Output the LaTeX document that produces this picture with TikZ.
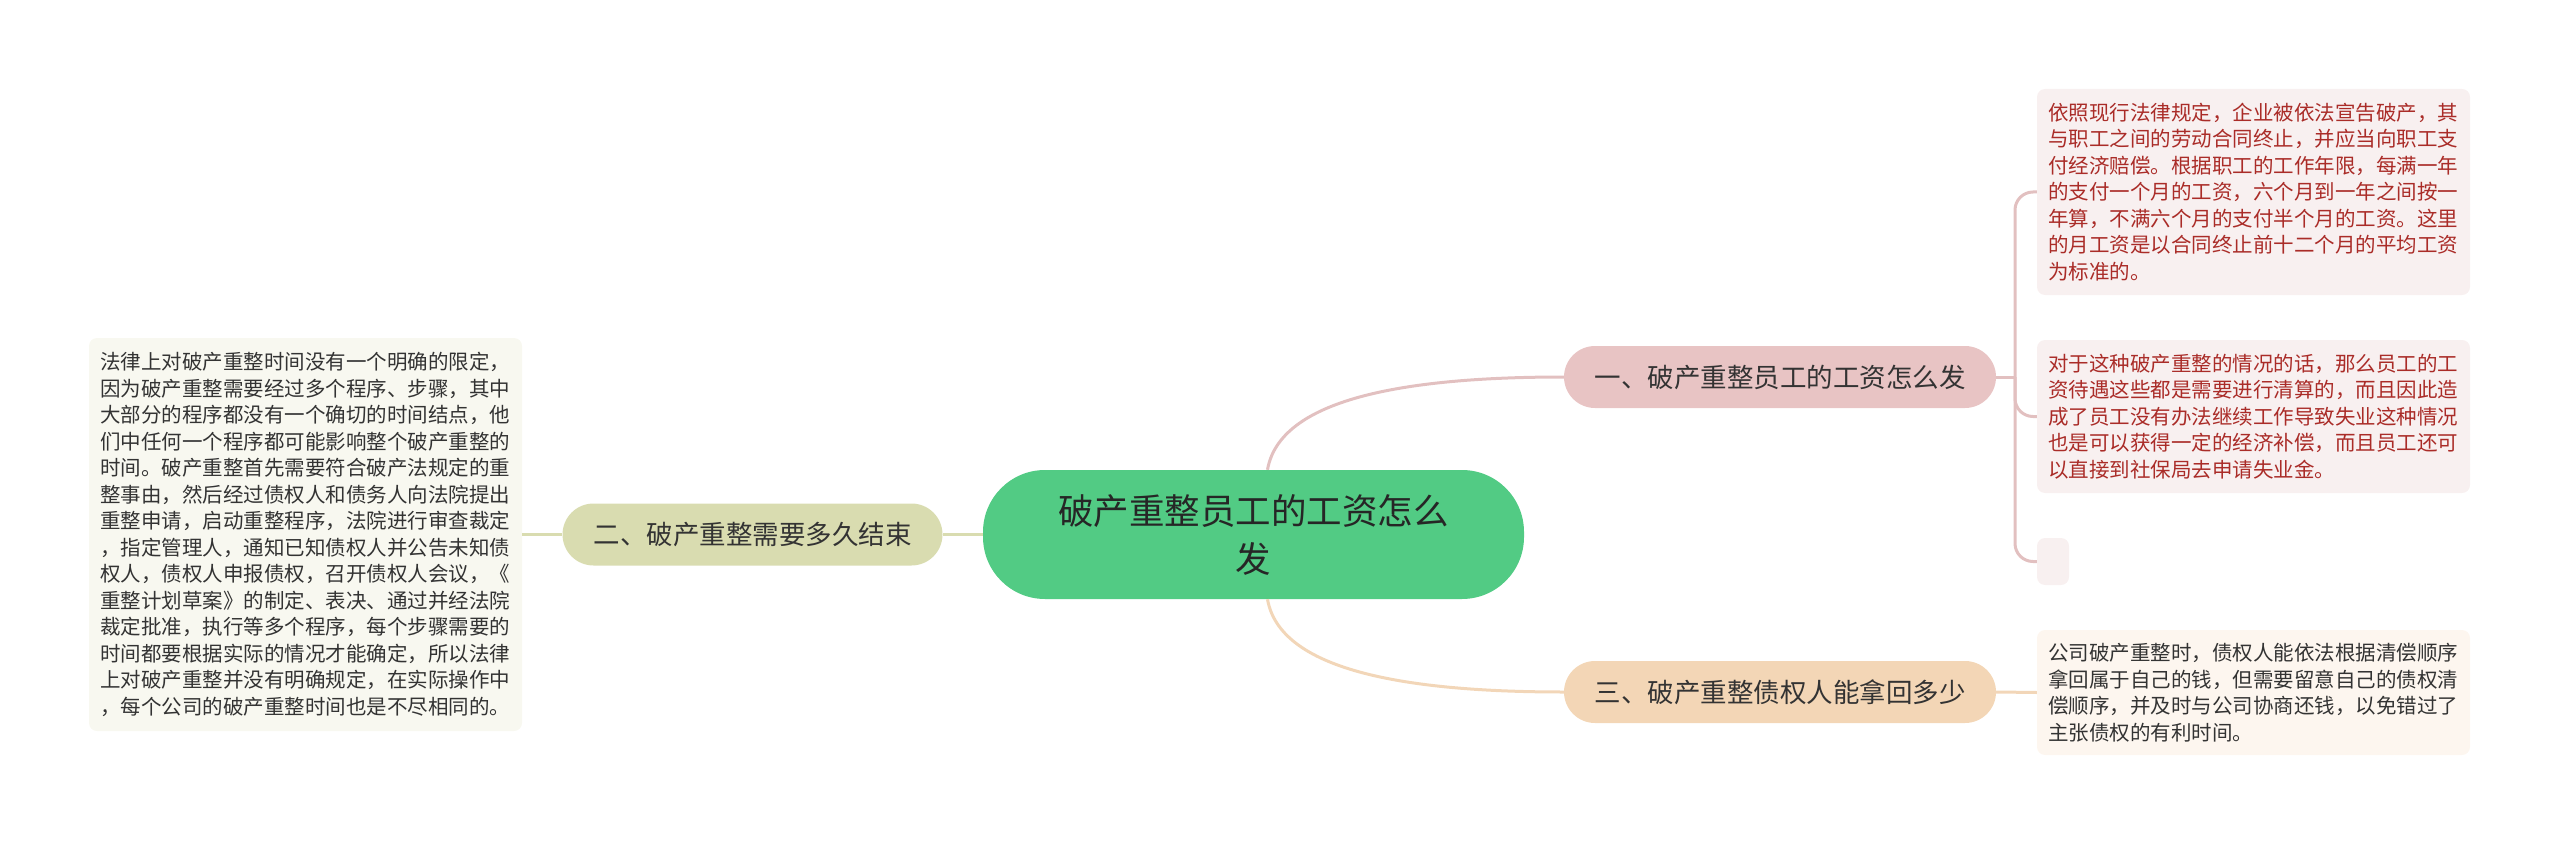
\documentclass[tikz,border=0pt]{standalone}
\usepackage{fontspec}
\setmainfont{Noto Sans CJK SC}
\definecolor{rootfill}{RGB}{82,203,132}
\definecolor{bonefill}{RGB}{232,196,196}
\definecolor{btwofill}{RGB}{217,220,176}
\definecolor{bthreefill}{RGB}{243,214,182}
\definecolor{lpink}{RGB}{248,240,240}
\definecolor{lcream}{RGB}{253,246,239}
\definecolor{lolive}{RGB}{248,248,240}
\definecolor{redtext}{RGB}{170,44,40}
\definecolor{darktext}{RGB}{51,51,51}
\definecolor{lineone}{RGB}{226,192,192}
\definecolor{linetwo}{RGB}{217,220,176}
\definecolor{linethree}{RGB}{242,214,184}
\tikzset{
  rootbox/.style={fill=rootfill, rounded corners=62pt, minimum width=541pt, minimum height=129pt,
    align=center, text=black!85, font={\fontsize{35.5pt}{48pt}\selectfont}, inner sep=0pt},
  branchbox/.style={rounded corners=31pt, minimum height=62pt, inner sep=0pt,
    text=darktext, font={\fontsize{26.5pt}{32pt}\selectfont}},
  leafbox/.style={rounded corners=8pt, text width=411pt, inner xsep=11pt, inner ysep=0pt,
    align=left, font={\fontsize{20.5pt}{26.5pt}\selectfont}},
  conn/.style={line width=3pt},
}
\begin{document}
\begin{tikzpicture}[x=1pt,y=-1pt]
\useasboundingbox (0,0) rectangle (2560,845);
% nodes
\node[rootbox] (root) at (1253.5,534.5) {破产重整员工的工资怎么\\发};
\node[branchbox, fill=bonefill, minimum width=432pt] (b1) at (1780,377) {一、破产重整员工的工资怎么发};
\node[branchbox, fill=btwofill, minimum width=380pt] (b2) at (752.5,534.5) {二、破产重整需要多久结束};
\node[branchbox, fill=bthreefill, minimum width=432pt] (b3) at (1780,692) {三、破产重整债权人能拿回多少};
\node[leafbox, fill=lpink, text=redtext, minimum height=206pt] (l1) at (2253.5,192) {依照现行法律规定，企业被依法宣告破产，其\\与职工之间的劳动合同终止，并应当向职工支\\付经济赔偿。根据职工的工作年限，每满一年\\的支付一个月的工资，六个月到一年之间按一\\年算，不满六个月的支付半个月的工资。这里\\的月工资是以合同终止前十二个月的平均工资\\为标准的。};
\node[leafbox, fill=lpink, text=redtext, minimum height=153pt] (l2) at (2253.5,416.5) {对于这种破产重整的情况的话，那么员工的工\\资待遇这些都是需要进行清算的，而且因此造\\成了员工没有办法继续工作导致失业这种情况\\也是可以获得一定的经济补偿，而且员工还可\\以直接到社保局去申请失业金。};
\node[fill=lpink, rounded corners=8pt, minimum width=32pt, minimum height=47pt, inner sep=0pt] (l3) at (2053,561.5) {};
\node[leafbox, fill=lcream, text=darktext, minimum height=125pt] (l4) at (2253.5,692.5) {公司破产重整时，债权人能依法根据清偿顺序\\拿回属于自己的钱，但需要留意自己的债权清\\偿顺序，并及时与公司协商还钱，以免错过了\\主张债权的有利时间。};
\node[leafbox, fill=lolive, text=darktext, minimum height=393pt] (lL) at (305.5,534.5) {法律上对破产重整时间没有一个明确的限定，\\因为破产重整需要经过多个程序、步骤，其中\\大部分的程序都没有一个确切的时间结点，他\\们中任何一个程序都可能影响整个破产重整的\\时间。破产重整首先需要符合破产法规定的重\\整事由，然后经过债权人和债务人向法院提出\\重整申请，启动重整程序，法院进行审查裁定\\，指定管理人，通知已知债权人并公告未知债\\权人，债权人申报债权，召开债权人会议，《\\重整计划草案》的制定、表决、通过并经法院\\裁定批准，执行等多个程序，每个步骤需要的\\时间都要根据实际的情况才能确定，所以法律\\上对破产重整并没有明确规定，在实际操作中\\，每个公司的破产重整时间也是不尽相同的。};
% connectors
\begin{scope}[on background layer/.style={}]
\draw[conn, lineone] ([xshift=14pt]root.north) .. controls +(12,-70) and +(-163,0) .. (b1.west);
\draw[conn, linethree] ([xshift=14pt]root.south) .. controls +(12,70) and +(-163,0) .. (b3.west);
\draw[conn, linetwo] (root.west) -- (b2.east);
\draw[conn, linetwo] (b2.west) -- (lL.east);
\draw[conn, linethree] (b3.east) -- (l4.west);
\coordinate (j) at (2015,377);
\draw[conn, lineone] (b1.east) -- (j);
\draw[conn, lineone, rounded corners=18pt] (j) |- (l1.west);
\draw[conn, lineone, rounded corners=18pt] (j) |- (l2.west);
\draw[conn, lineone, rounded corners=18pt] (j) |- (l3.west);
\end{scope}
\end{tikzpicture}
\end{document}
